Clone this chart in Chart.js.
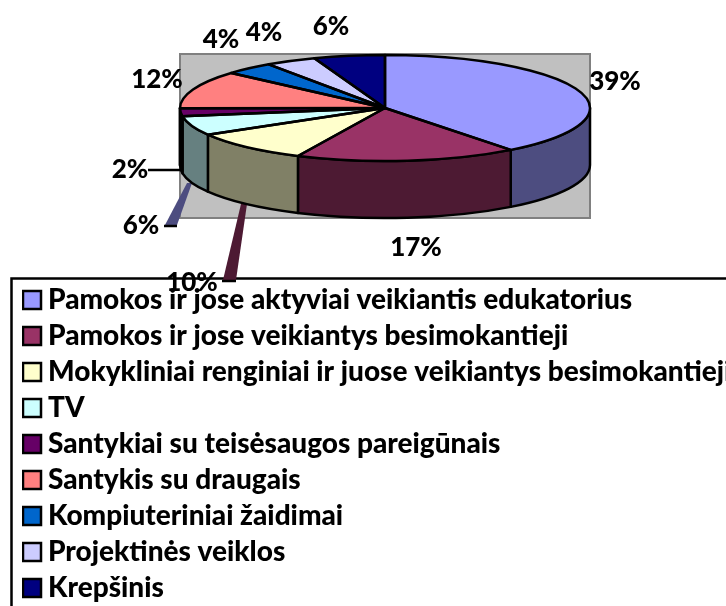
<!DOCTYPE html>
<html>
<head>
<meta charset="utf-8">
<style>html,body{margin:0;padding:0;background:#fff;overflow:hidden}canvas{display:block}</style>
<script src="https://cdn.jsdelivr.net/npm/chart.js@4"></script>
</head>
<body>
<canvas id="c" width="726" height="606"></canvas>
<script>
const categories = [
  "Pamokos ir jose aktyviai veikiantis edukatorius",
  "Pamokos ir jose veikiantys besimokantieji",
  "Mokykliniai renginiai ir juose veikiantys besimokantieji",
  "TV",
  "Santykiai su teisėsaugos pareigūnais",
  "Santykis su draugais",
  "Kompiuteriniai žaidimai",
  "Projektinės veiklos",
  "Krepšinis"
];
const shares = [39.49, 17.49, 9.62, 5.9, 2.4, 11.6, 3.9, 4.0, 5.6];
const sliceColors = ["#9999FF","#993366","#FFFFCC","#CCFFFF","#660066","#FF8080","#0066CC","#CCCCFF","#000080"];
const wallColors  = ["#4D4D80","#4D1A33","#808066","#668080","#330033","#804040","#003366","#666680","#000040"];

const FONT = '900 26px Lato';
const labelAnchors = [[615,82],[416,248],[192,283],[141,226],[130,170],[157,80],[221,40],[264,33],[331,27]];
const PIE = {cx:385, cy:108, rx:205, ry:53, depth:57};

const pie3d = {
  id:'pie3d',
  afterLayout(chart){
    const l = chart.legend;
    l.left = 22; l.top = 278; l.right = 726; l.bottom = 660;
    l.width = l.right - l.left; l.height = l.bottom - l.top;
    chart.chartArea = {left:PIE.cx-PIE.rx, right:PIE.cx+PIE.rx, top:PIE.cy-PIE.rx, bottom:PIE.cy+PIE.rx, width:2*PIE.rx, height:2*PIE.rx};
  },
  beforeDraw(chart){
    const c = chart.ctx;
    c.save();
    c.fillStyle = '#C0C0C0'; c.strokeStyle = '#808080'; c.lineWidth = 2;
    c.fillRect(180,54,410,164); c.strokeRect(180,54,410,164);
    c.strokeStyle = '#000'; c.lineWidth = 2.5;
    c.beginPath(); c.moveTo(11.5,606); c.lineTo(11.5,278.5); c.lineTo(726,278.5); c.stroke();
    c.restore();
  },
  beforeDatasetsDraw(chart){
    const c = chart.ctx, {cx,cy,rx,ry,depth} = PIE;
    const arcs = chart.getDatasetMeta(0).data;
    c.save();
    c.lineJoin = 'round';
    const wedge = (pts, fill, foot) => {
      c.fillStyle = fill; c.beginPath();
      pts.forEach((p,i)=> i? c.lineTo(p[0],p[1]) : c.moveTo(p[0],p[1]));
      c.closePath(); c.fill();
      c.strokeStyle='#000'; c.lineWidth=2.5; c.beginPath(); c.moveTo(foot[0],foot[2]); c.lineTo(foot[1],foot[2]); c.stroke();
    };
    c.strokeStyle='#000'; c.lineWidth=2.5; c.beginPath(); c.moveTo(148,170); c.lineTo(182,170); c.stroke();
    wedge([[192,183],[187,183],[165,225],[177,225]], '#4D4D80', [164,177,226]);
    wedge([[247,204],[241,204],[223,280],[236,280]], '#4D1A33', [222,236,281]);
    arcs.forEach((a,i)=>{
      for (const shift of [0, -2*Math.PI]) {
        const s = Math.max(a.startAngle+shift, 0), e = Math.min(a.endAngle+shift, Math.PI);
        if (e <= s) continue;
        c.beginPath();
        c.ellipse(cx,cy,rx,ry,0,s,e);
        c.ellipse(cx,cy+depth,rx,ry,0,e,s,true);
        c.closePath();
        c.fillStyle = wallColors[i]; c.fill();
        c.strokeStyle='#000'; c.lineWidth=2.5; c.stroke();
      }
    });
    c.restore();
    c.save();
    c.translate(cx,cy); c.scale(1,ry/rx); c.translate(-cx,-cy);
  },
  afterDatasetsDraw(chart){
    const c = chart.ctx, {cx,cy,rx,ry} = PIE;
    c.restore();
    c.save();
    c.strokeStyle='#000'; c.lineWidth=2.5; c.lineJoin='round';
    chart.getDatasetMeta(0).data.forEach(a=>{
      c.beginPath(); c.moveTo(cx,cy);
      c.ellipse(cx,cy,rx,ry,0,a.startAngle,a.endAngle);
      c.closePath(); c.stroke();
    });
    c.restore();
  },
  afterDraw(chart){
    const c = chart.ctx;
    c.save();
    c.font = FONT; c.fillStyle='#000'; c.textAlign='center'; c.textBaseline='middle';
    shares.forEach((v,i)=> c.fillText(Math.round(v)+'%', labelAnchors[i][0], labelAnchors[i][1]));
    c.restore();
  }
};

new Chart(document.getElementById('c'), {
  type:'pie',
  data:{labels:categories, datasets:[{data:shares, backgroundColor:sliceColors, borderWidth:0}]},
  options:{
    responsive:false, animation:false, events:[], rotation:0,
    plugins:{
      tooltip:{enabled:false},
      legend:{
        position:'left', align:'start', maxWidth:300,
        labels:{
          usePointStyle:true, pointStyle:'rect', boxWidth:4, boxHeight:18,
          padding:8, color:'#000',
          font:{family:'Lato', weight:'900', size:28},
          generateLabels(chart){
            return Chart.overrides.pie.plugins.legend.labels.generateLabels(chart)
              .map(it=>Object.assign(it,{strokeStyle:'#000', lineWidth:2.5, hidden:false}));
          }
        }
      }
    }
  },
  plugins:[pie3d]
});
</script>
</body>
</html>
